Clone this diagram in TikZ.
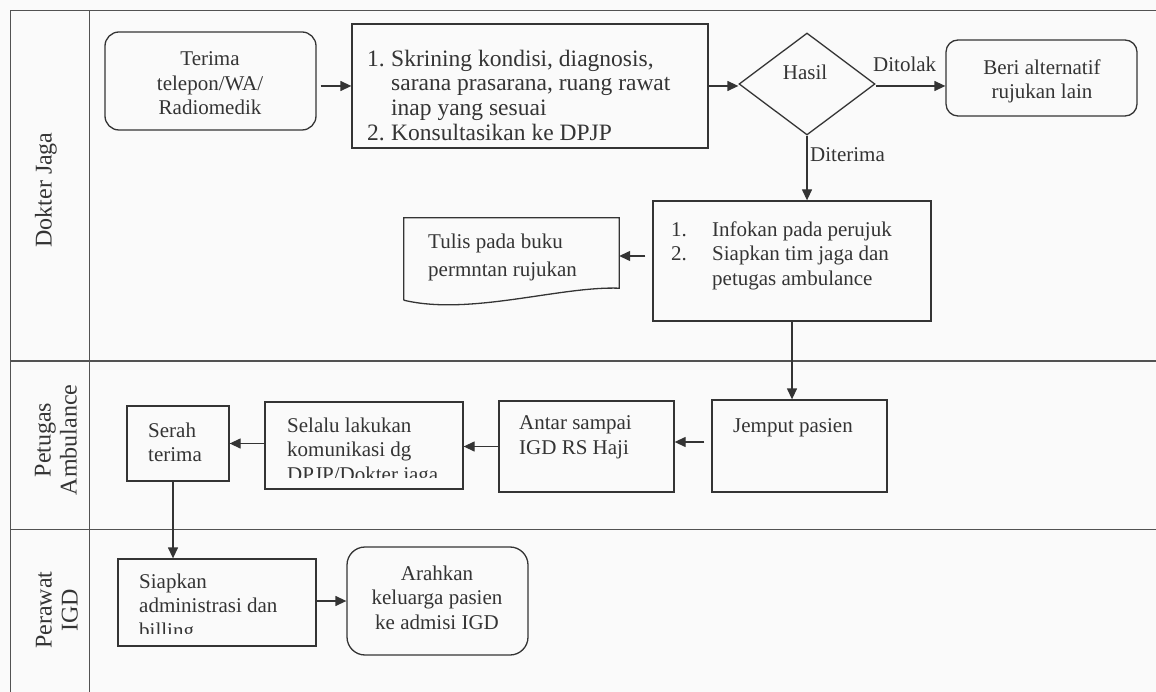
\documentclass[tikz,border=0pt]{standalone}
\usepackage{fontspec}
\setmainfont{Liberation Serif}
\usetikzlibrary{arrows.meta,shapes.geometric}
\definecolor{ink}{RGB}{52,52,52}
\definecolor{paper}{RGB}{250,250,250}
\begin{document}
\begin{tikzpicture}[x=1pt,y=-1pt,
  every node/.style={font=\fontsize{21}{24.5}\selectfont, text=ink},
  box/.style={draw=ink, line width=1.3pt, rectangle, inner sep=0pt},
  rbox/.style={box, rounded corners=14pt},
  ghost/.style={rectangle, inner sep=0pt},
  arr/.style={draw=ink, line width=1.3pt, -{Triangle[length=11pt,width=10pt]}},
  lane/.style={draw=ink!85, line width=1pt},
  tl/.style={anchor=north west, inner sep=0pt, align=left},
  tc/.style={anchor=north, inner sep=0pt, align=center},
  bl/.style={anchor=base west, inner sep=0pt},
  bc/.style={anchor=base, inner sep=0pt},
  lanelabel/.style={rotate=90, anchor=center, inner sep=0pt, align=center, font=\fontsize{24}{26}\selectfont},
]
\useasboundingbox (0,0) rectangle (1156,692);
\fill[paper] (0,0) rectangle (1156,692);

% swimlane frame
\draw[lane] (1156,11) -- (10,11) -- (10,692);
\draw[lane] (89,11) -- (89,692);
\draw[lane] (10,361) -- (1156,361);
\draw[lane] (10,529) -- (1156,529);

\node[lanelabel] (lane1) at (46,190) {Dokter Jaga};
\node[lanelabel] (lane2) at (56,440) {Petugas\\Ambulance};
\node[lanelabel] (lane3) at (57,610) {Perawat\\IGD};

% Dokter Jaga lane
\node[rbox, minimum width=211pt, minimum height=98pt] (terima) at (210.5,81) {};
\node[tc] (terimaT) at (210,51.5) {Terima\\telepon/WA/\\Radiomedik};

\node[box, minimum width=356pt, minimum height=124pt] (skrining) at (530,86) {};
\node[tl, font=\fontsize{23.5}{24.7}\selectfont] (skriningT) at (367,49.5) {\makebox[24pt][l]{1.}Skrining kondisi, diagnosis,\\
\hspace*{24pt}sarana prasarana, ruang rawat\\
\hspace*{24pt}inap yang sesuai\\
\makebox[24pt][l]{2.}Konsultasikan ke DPJP};

\node[draw=ink, line width=1.3pt, diamond, minimum width=136pt, minimum height=102pt, inner sep=0pt] (hasil) at (807,84) {};
\node[bc] (hasilT) at (805,80) {Hasil};

\node[rbox, rounded corners=12pt, minimum width=191pt, minimum height=76pt] (beri) at (1041.5,78) {};
\node[tc] (beriT) at (1042,59.5) {Beri alternatif\\rujukan lain};

\node[box, minimum width=278pt, minimum height=120pt] (infokan) at (792,261) {};
\node[tl] (infokanT) at (671,221.5) {\makebox[41pt][l]{1.}Infokan pada perujuk\\
\makebox[41pt][l]{2.}Siapkan tim jaga dan\\
\hspace*{41pt}petugas ambulance};

\node[ghost, minimum width=215pt, minimum height=82pt] (tulis) at (511.5,259) {};
\draw[ink, line width=1.3pt] (tulis.south west) -- (tulis.north west) -- (tulis.north east)
  -- ([yshift=12pt]tulis.south east) .. controls (560,286) and (470,316) .. (tulis.south west);
\node[tl, font=\fontsize{21}{28}\selectfont] (tulisT) at (428,233.5) {Tulis pada buku\\permntan rujukan};

% Petugas Ambulance lane
\node[box, minimum width=175pt, minimum height=92pt] (jemput) at (799.5,446) {};
\node[bl] (jemputT) at (733,432) {Jemput pasien};

\node[box, minimum width=175pt, minimum height=91pt] (antar) at (586.5,446.5) {};
\node[tl] (antarT) at (519,415.5) {Antar sampai\\IGD RS Haji};

\node[box, minimum width=198pt, minimum height=87pt] (selalu) at (364,445.5) {};
\begin{scope}
\clip (265,402) rectangle (463,477);
\node[tl] (selaluT) at (287,417.5) {Selalu lakukan\\komunikasi dg\\DPJP/Dokter jaga};
\end{scope}

\node[box, minimum width=102pt, minimum height=75pt] (serah) at (178,443.5) {};
\node[tl] (serahT) at (148,422.5) {Serah\\terima};

% Perawat IGD lane
\node[box, minimum width=198pt, minimum height=87pt] (siapkan) at (217,602.5) {};
\begin{scope}
\clip (118,559) rectangle (316,633);
\node[tl] (siapkanT) at (139,573.5) {Siapkan\\administrasi dan\\billing};
\end{scope}

\node[rbox, rounded corners=18pt, minimum width=181pt, minimum height=108pt] (arahkan) at (437.5,601) {};
\node[tc] (arahkanT) at (437,565.5) {Arahkan\\keluarga pasien\\ke admisi IGD};

% connectors
\draw[arr, shorten <=4pt] (terima.east |- skrining.west) -- (skrining.west);
\draw[arr] (skrining.east) -- (skrining.east -| hasil.west);
\draw[arr] ([yshift=-2pt]hasil.east) -- ([yshift=-2pt]hasil.east -| beri.west);
\node[bl] (ditolak) at (873,72) {Ditolak};
\draw[arr] (hasil.south) -- (hasil.south |- infokan.north);
\node[bl] (diterima) at (810,162) {Diterima};
\draw[arr, shorten <=7pt] ([yshift=5pt]infokan.west) -- ([yshift=5pt]infokan.west -| tulis.east);
\draw[arr] (infokan.south) -- (infokan.south |- jemput.north);
\draw[arr, shorten <=7pt] ([yshift=4pt]jemput.west) -- ([yshift=4pt]jemput.west -| antar.east);
\draw[arr] (antar.west) -- (antar.west -| selalu.east);
\draw[arr] (selalu.west |- serah.east) -- (serah.east);
\draw[arr] ([xshift=-5pt]serah.south) -- ([xshift=-5pt]serah.south |- siapkan.north);
\draw[arr] (siapkan.east |- arahkan.west) -- (arahkan.west);
\end{tikzpicture}
\end{document}
